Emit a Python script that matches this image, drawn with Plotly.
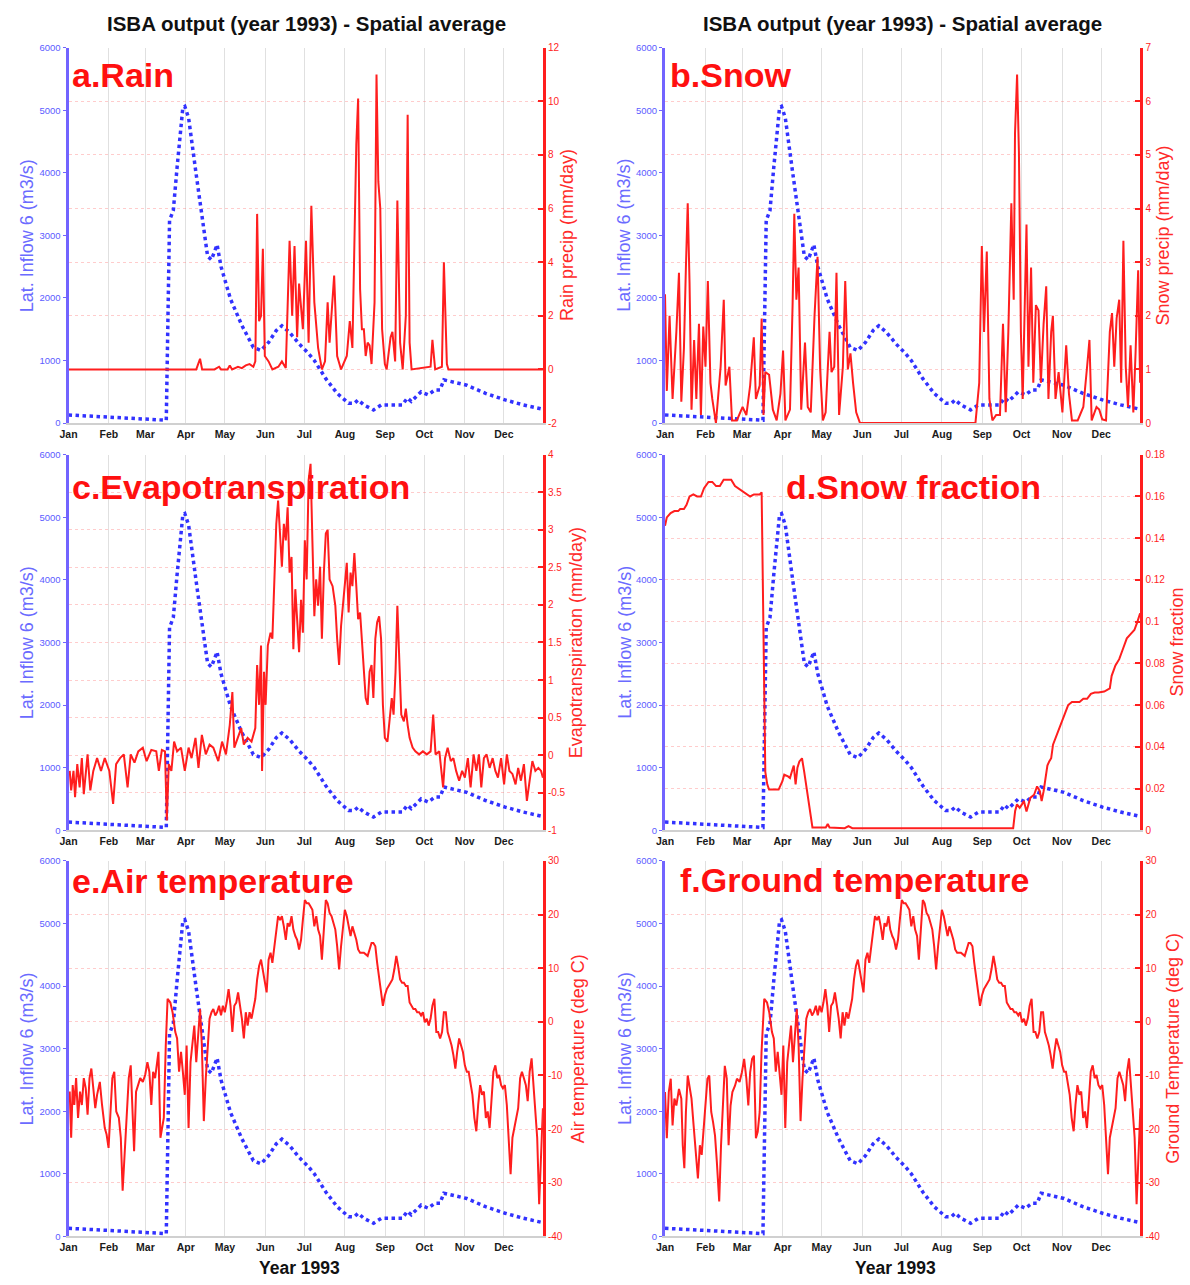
import plotly.graph_objects as go

# ---------------- data ----------------
months = ["Jan", "Feb", "Mar", "Apr", "May", "Jun", "Jul", "Aug", "Sep", "Oct", "Nov", "Dec"]
month_start = [1, 32, 60, 91, 121, 152, 182, 213, 244, 274, 305, 335]

# lateral inflow 6 (m3/s): (day of year, value) - same series in every panel
inflow = [(1, 130), (20, 110), (40, 90), (60, 70), (76, 45), (78.5, 3240), (81.4, 3400), (84.3, 4090),
          (88.7, 5040), (90.2, 5060), (93.1, 4880), (98.9, 3980), (103.3, 3300), (107.7, 2665),
          (110.6, 2610), (115, 2850), (118, 2500), (125.3, 1980), (134, 1560), (142.8, 1210),
          (148.7, 1160), (154.5, 1290), (160.4, 1480), (164.7, 1555), (170.6, 1450), (177.9, 1265),
          (185.2, 1110), (189.6, 1000), (198.4, 710), (207.1, 475), (215.9, 315), (220.3, 315),
          (223.2, 370), (227.6, 290), (235, 210), (241, 290), (248, 290), (257, 290), (261, 400),
          (264, 345), (271.5, 500), (277, 450), (282, 530), (286, 530), (289, 690), (295, 660),
          (306.6, 605), (321, 475), (336, 370), (350, 290), (365, 220)]

rain = [(1, 0), (99, 0), (101.9, 0.4), (103.5, 0), (113, 0), (116.5, 0.1), (118, 0), (123, 0), (124.7, 0.15),
        (126.5, 0), (131, 0.1), (134, 0.05), (137, 0.15), (139.9, 0.2), (142.8, 0.1), (144.3, 0.3),
        (145.7, 5.8), (147.2, 1.8), (148.7, 2.0), (150.1, 4.5), (151.6, 0.5), (154.5, 0.3), (157.4, 0),
        (162, 0.1), (164.7, 0.3), (167.7, 0.05), (170.6, 4.8), (172.6, 2.0), (174.4, 4.6), (176.4, 1.2),
        (177.9, 3.2), (180.8, 1.5), (183.2, 4.8), (185.2, 1.0), (187.3, 6.1), (189.6, 2.5), (192.5, 0.8),
        (195.4, 0), (197.8, 0.3), (199.8, 2.5), (201.3, 1.0), (202.8, 2.0), (204.8, 3.5), (207.1, 0.5),
        (210.1, 0), (214.5, 0.5), (216.8, 1.8), (218.8, 0.8), (220.3, 4.0), (221.8, 8.4), (223.2, 10.1),
        (224.7, 3.0), (226.1, 1.5), (227.6, 1.5), (229, 0.5), (230.5, 1.0), (232, 0.9), (233.5, 0.2),
        (235.8, 2.5), (237.3, 11.0), (238.7, 7.0), (240.2, 6.0), (241.6, 1.5), (243.7, 0.2), (245.1, 0),
        (248.1, 1.2), (249.5, 1.4), (251.6, 0.3), (253.3, 6.3), (255.4, 1.0), (257.4, 0), (259.8, 2.0),
        (261.2, 9.5), (262.7, 1.0), (264.2, 0), (271.5, 0.05), (278.8, 0.1), (280.2, 1.1), (282.3, 0),
        (287.5, 0.1), (289, 4.0), (291.3, 0.2), (292.5, 0), (365, 0)]

snow = [(1, 2.4), (2.4, 0.6), (4.5, 2.0), (6.8, 0.45), (9.7, 1.7), (11.7, 2.8), (13.5, 0.4), (15.5, 1.4),
        (17, 2.9), (18.4, 4.1), (19.8, 2.6), (21.3, 0.25), (23.3, 1.55), (25, 0.45), (27, 1.85),
        (28.5, 0.15), (30.3, 1.8), (32, 1.05), (33.8, 2.65), (35.8, 0.75), (37.2, 0.45), (40, 0),
        (43.6, 1.05), (46, 2.3), (47.4, 0.7), (50.3, 1.05), (52.3, 0.05), (56, 0.05), (60.4, 0.3),
        (63.3, 0.15), (66.2, 0.7), (69, 1.6), (70.6, 0.45), (73.5, 0.7), (75, 1.95), (76.4, 0.15),
        (77.8, 0.95), (80.7, 0.9), (83.6, 0.25), (86.5, 0.05), (89.4, 0.55), (91.4, 1.35), (93.2, 0.05),
        (96.7, 0.25), (98.7, 2.2), (100, 3.9), (101.6, 2.3), (103.3, 2.9), (105.3, 0.25), (108.2, 1.5),
        (110.3, 0.3), (112.6, 0.2), (115.5, 2.0), (117.8, 3.1), (119.8, 1.0), (121.9, 0.05), (124, 0.2),
        (127, 1.7), (128.5, 0.95), (130.6, 1.05), (132.3, 2.8), (134.3, 0.15), (137.2, 1.05), (139, 2.65),
        (141, 1.0), (143, 1.3), (145, 0.75), (147.4, 0.2), (150.3, 0), (238.7, 0), (241.6, 0.75),
        (243.6, 3.3), (245.3, 1.7), (247.4, 3.2), (249.4, 0.45), (251.7, 0.05), (254.6, 0.15),
        (257.5, 0.15), (259.8, 1.85), (261.9, 0.2), (263.9, 1.7), (266.2, 4.1), (268, 2.3), (269, 5.4),
        (270.6, 6.5), (272, 5.05), (273.5, 1.7), (274.9, 0.45), (277.8, 3.7), (279.3, 1.05), (281.3, 2.9),
        (283, 0.75), (285, 2.2), (287, 2.1), (288.8, 0.75), (290.9, 1.85), (292.9, 2.55), (294.6, 0.45),
        (296.7, 1.7), (298, 2.0), (300, 0.45), (302.4, 0.95), (305.3, 0.2), (308.2, 1.45), (310.3, 0.55),
        (312.6, 0.05), (317, 0.05), (321.3, 0.3), (324.2, 1.05), (326, 1.55), (327.7, 0.05), (331.4, 0.3),
        (333.5, 0.25), (335.8, 0.07), (338.7, 0.05), (341.6, 1.7), (343.3, 2.05), (345, 1.05),
        (346.8, 1.95), (348.8, 2.3), (350.3, 0.75), (352, 3.4), (353.8, 1.05), (355.5, 0.3), (357.5, 1.45),
        (359.6, 0.2), (361.3, 1.3), (363.3, 2.85), (364.8, 0.75)]

evap = [(1.9, -0.21), (3, -0.47), (4.8, -0.21), (6, -0.56), (7.7, -0.12), (9.5, -0.43), (11.2, -0.04),
        (12.7, -0.52), (15.6, 0.01), (17.7, -0.47), (20, -0.21), (22.9, -0.04), (25.9, -0.21), (28.8, -0.04),
        (32.3, -0.21), (35.2, -0.65), (37.5, -0.12), (40.5, -0.04), (43.4, 0.01), (46.3, -0.43), (48.7, 0.01),
        (51.6, -0.1), (54.5, 0.05), (58, 0.1), (60.9, -0.08), (64.5, 0.07), (68.3, 0.05), (70.3, -0.21),
        (72.6, 0.07), (75, 0.05), (76.4, -0.87), (77.9, -0.12), (79.9, -0.21), (82, 0.18), (84.3, 0.05),
        (87.3, 0.1), (90.2, -0.21), (93.1, 0.1), (95.4, -0.04), (98.4, 0.23), (100.7, -0.17), (103.3, 0.27),
        (106.3, 0.01), (109.2, 0.14), (112.1, 0.1), (115.9, -0.08), (118.8, 0.18), (121.8, 0.01),
        (124.7, 0.4), (126.7, 0.84), (128.2, 0.1), (131.1, 0.23), (133.5, 0.36), (135.5, 0.14),
        (138.4, 0.23), (141.4, 0.18), (144.3, 0.36), (145.7, 1.2), (147.2, 0.67), (148.7, 1.46),
        (149.5, -0.21), (151, 1.11), (152.2, 0.67), (153.9, 1.46), (156, 1.63), (157.4, 1.55), (158.9, 2.43),
        (160.4, 3.08), (161.8, 3.39), (163.3, 2.95), (164.7, 2.51), (166.2, 3.08), (167.7, 2.86),
        (169.1, 3.3), (170.6, 2.43), (172.1, 2.64), (173.5, 1.41), (175, 2.21), (176.4, 1.77), (177.9, 1.37),
        (179.4, 2.07), (180.8, 1.63), (182.3, 2.86), (183.7, 2.34), (185.2, 3.66), (186.7, 3.88),
        (188.1, 2.86), (189.6, 1.85), (191, 2.34), (192.5, 1.99), (194, 2.51), (195.4, 1.55), (196.9, 2.43),
        (198.4, 2.95), (199.8, 3.0), (201.3, 2.34), (203.6, 2.25), (205.7, 1.99), (207.1, 1.55),
        (208.6, 1.2), (210.1, 1.72), (211.5, 1.99), (213, 2.34), (214.5, 2.56), (215.9, 1.9), (217.4, 2.43),
        (218.8, 2.25), (220.3, 2.69), (221.8, 2.25), (223.2, 1.81), (224.7, 1.9), (226.1, 1.55),
        (227.6, 1.11), (229, 0.76), (230.5, 0.67), (232, 1.11), (233.5, 1.2), (234.9, 0.76), (236.4, 1.55),
        (237.8, 1.77), (239.3, 1.85), (240.8, 1.55), (242.2, 0.67), (243.7, 0.23), (245.7, 0.18),
        (247.5, 0.45), (249, 0.76), (250.4, 0.54), (251.9, 1.11), (253.3, 1.99), (254.8, 1.11),
        (256.3, 0.54), (258.3, 0.45), (259.8, 0.62), (261.2, 0.4), (262.7, 0.23), (265, 0.1), (267.1, 0.05),
        (270, 0.01), (272.9, 0.05), (275.9, 0.01), (278.8, 0.05), (280.8, 0.54), (282.6, 0.01),
        (285.5, 0.05), (288.4, -0.43), (289.9, -0.04), (291.9, 0.1), (294.3, -0.08), (296.3, -0.04),
        (298.4, -0.21), (300.7, -0.34), (303, -0.21), (305.1, -0.3), (307.4, -0.04), (309.5, -0.43),
        (311.8, 0.01), (313.9, -0.21), (315.9, 0.01), (317.7, -0.43), (319.7, -0.04), (321.8, 0.01),
        (324.1, -0.17), (326.4, -0.04), (328.5, -0.21), (330.5, -0.3), (332.9, -0.04), (335.2, -0.39),
        (337.3, 0.01), (339.3, -0.21), (341.6, -0.25), (344, -0.39), (346, -0.17), (348.1, -0.34),
        (350.4, -0.12), (352.7, -0.61), (354.8, -0.34), (356.9, -0.08), (359.2, -0.21), (361.5, -0.17),
        (363.6, -0.21), (365, -0.3)]

snow_frac = [(1, 0.146), (2.4, 0.150), (5.3, 0.152), (8.2, 0.153), (11.1, 0.153), (12.6, 0.154),
             (15.5, 0.154), (17.5, 0.156), (19.8, 0.160), (22.7, 0.161), (25.6, 0.160), (28.5, 0.160),
             (30.9, 0.164), (34.3, 0.167), (37.2, 0.167), (40.1, 0.165), (43, 0.165), (45.9, 0.168),
             (48.8, 0.168), (51.7, 0.168), (54.6, 0.165), (59, 0.163), (63.3, 0.161), (66.2, 0.160),
             (69.1, 0.161), (73.5, 0.161), (75, 0.162), (75.8, 0.123), (77, 0.06), (77.8, 0.028),
             (79.3, 0.022), (80.7, 0.0195), (85.1, 0.0195), (88, 0.0195), (90.9, 0.0235), (92.3, 0.0266),
             (95.2, 0.0258), (96.7, 0.025), (98.1, 0.028), (99.6, 0.031), (101, 0.022), (102.4, 0.03),
             (103.9, 0.033), (105.9, 0.0345), (107.6, 0.028), (109.6, 0.0187), (111.9, 0.0092),
             (113.9, 0.0013), (124.1, 0.0013), (125.6, 0.003), (127, 0.0013), (138.6, 0.001), (141.5, 0.002),
             (144.4, 0.001), (267.6, 0.001), (269.1, 0.0092), (270.5, 0.0124), (272.6, 0.0108),
             (274.3, 0.0124), (275.8, 0.014), (277.8, 0.009), (280.7, 0.0155), (283.6, 0.017), (285.9, 0.021),
             (288, 0.0187), (289.4, 0.014), (290.9, 0.0187), (293.8, 0.031), (295.2, 0.033), (296.7, 0.0345),
             (298.1, 0.041), (301, 0.0456), (303.9, 0.05), (306.8, 0.055), (309.7, 0.06), (312.6, 0.0615),
             (315.5, 0.0615), (318.4, 0.0615), (321.3, 0.063), (324.2, 0.063), (327.1, 0.0654), (330, 0.066),
             (332.9, 0.066), (337.3, 0.0665), (341.6, 0.068), (343, 0.074), (345.9, 0.079), (348.8, 0.082),
             (351.7, 0.087), (354.6, 0.092), (357.5, 0.094), (360.4, 0.096), (362.5, 0.0995), (364.8, 0.104)]

air_temp = [(1.9, -13), (3.0, -21.6), (4.2, -11.8), (5.4, -15.5), (6.8, -10.5), (8.3, -17.9), (9.8, -13),
            (11.2, -15.5), (12.7, -10.5), (14.2, -12.4), (15.6, -17.3), (17.1, -10.5), (18.5, -8.7),
            (20.0, -11.8), (21.5, -16.1), (22.9, -13.6), (25.0, -11.2), (26.7, -15.5), (28.8, -19.8),
            (30.2, -21), (31.7, -23.5), (33.2, -16.7), (34.6, -10.5), (36.1, -9.3), (37.6, -16.7),
            (39.6, -17.9), (41.1, -21.6), (42.5, -31.5), (44.0, -24.1), (45.4, -16.7), (47.2, -10.5),
            (48.7, -8.1), (50.1, -17.9), (51.3, -24.1), (52.8, -13), (54.5, -11.8), (56.0, -10.5),
            (58.0, -11.2), (59.8, -9.9), (61.5, -7.5), (63.0, -9.3), (64.5, -15.5), (65.9, -9.3),
            (67.4, -10.5), (68.8, -7.5), (70.0, -5.6), (71.5, -21.6), (72.9, -19.2), (74.1, -17.9),
            (75.6, -4.4), (77.0, 4.3), (79.1, 3.6), (80.8, 1.8), (82.9, -1.9), (84.3, -3.1), (85.8, -9.3),
            (87.3, -5.6), (88.7, -9.3), (90.2, -13.6), (91.6, -4.4), (93.1, -19.8), (94.6, -7.5), (96.0, -4.4),
            (97.5, -0.7), (99.0, -7.5), (100.4, -1.9), (101.9, 2.4), (103.3, -4.4), (104.8, -18.5),
            (106.3, -10.5), (107.7, -4.4), (109.2, 0.6), (110.7, 1.8), (112.1, 2.4), (113.6, 1.2), (115.0, 1.8),
            (116.5, 3), (118.0, 1.2), (119.4, 3), (120.9, 1.8), (122.3, 3.6), (123.8, 6.1), (125.3, 3),
            (126.7, -1.9), (128.2, 3), (129.7, 3.6), (131.1, 5.5), (132.6, 3), (134.0, 0.6), (135.5, -3.1),
            (137.0, 1.8), (138.4, -0.7), (139.9, 1.8), (141.4, 0.6), (142.8, 2.4), (144.3, 4.3), (145.7, 7.9),
            (147.2, 10.4), (148.7, 11.6), (150.1, 9.8), (151.6, 7.9), (153.0, 5.5), (154.5, 11.6),
            (156.0, 12.9), (157.4, 11), (158.9, 14.1), (160.4, 17.2), (161.8, 19.7), (163.3, 19), (164.7, 19.7),
            (166.2, 17.8), (167.7, 15.3), (169.1, 18.4), (170.6, 17.8), (172.1, 19.7), (173.5, 17.2),
            (175.0, 16), (176.4, 15.3), (177.9, 13.5), (179.4, 15.3), (180.8, 19), (182.3, 22.7), (183.8, 22.1),
            (185.2, 22.1), (186.7, 21.5), (188.1, 20.9), (189.6, 17.8), (191.1, 19.7), (192.5, 17.2),
            (194.0, 16), (195.4, 11.6), (196.9, 17.2), (198.4, 22.7), (199.8, 22.1), (201.3, 20.3),
            (202.8, 19.7), (204.2, 18.4), (205.7, 17.2), (207.1, 14.1), (208.6, 9.8), (210.1, 14.1),
            (211.5, 17.2), (213.0, 20.9), (214.5, 19.7), (215.9, 17.8), (217.4, 16), (218.8, 17.8),
            (220.3, 16.6), (221.8, 15.3), (223.2, 13.5), (224.7, 12.9), (227.6, 12.9), (230.5, 12.3),
            (232.0, 13.5), (233.5, 14.7), (234.9, 14.7), (236.4, 14.1), (237.8, 11), (239.3, 7.9), (240.8, 5.5),
            (242.2, 3), (243.7, 4.9), (245.2, 6.1), (246.6, 6.7), (248.1, 7.3), (249.5, 7.9), (251.0, 9.8),
            (252.5, 12.3), (253.9, 10.4), (255.4, 7.9), (256.9, 7.3), (258.3, 7.3), (259.8, 6.7), (261.2, 6.7),
            (262.7, 3.6), (264.2, 3), (265.6, 2.4), (267.1, 2.4), (268.5, 1.8), (270.0, 1.8), (271.5, 1.2),
            (272.9, 1.8), (274.4, -0.1), (275.9, 0.6), (277.3, -0.7), (278.8, 0.6), (280.2, 3), (281.7, 4.3),
            (283.2, -1.9), (284.6, -1.9), (286.1, -3.1), (287.6, -1.9), (289.0, 1.8), (290.5, 1.8),
            (291.9, -1.9), (293.4, -3.1), (294.9, -4.4), (296.3, -6.2), (297.8, -8.7), (299.2, -5.6),
            (300.7, -3.1), (302.2, -4.4), (303.6, -5.6), (305.1, -8.1), (306.6, -9.3), (308.0, -9.3),
            (309.5, -11.8), (310.9, -13.6), (312.4, -17.9), (313.9, -20.4), (315.3, -15.5), (316.8, -11.8),
            (318.3, -13.6), (319.7, -13), (321.2, -17.9), (322.6, -16.7), (324.1, -19.8), (325.6, -14.2),
            (327.0, -9.3), (328.5, -8.1), (330.0, -10.5), (331.4, -9.9), (332.9, -11.8), (334.3, -12.4),
            (335.8, -11.8), (337.3, -15.5), (338.7, -21), (340.2, -28.4), (341.6, -21.6), (343.1, -19.8),
            (344.6, -17.9), (346.0, -16.1), (347.5, -10.5), (348.9, -9.3), (350.4, -10.5), (351.9, -11.8),
            (353.3, -14.8), (354.8, -9.3), (356.3, -6.8), (357.7, -11.8), (359.2, -16.7), (360.6, -21.6),
            (362.1, -34), (363.6, -26.6), (364.3, -20.4), (365.0, -16.1)]

# ground temperature: Jan-mid Mar differs from air temperature, afterwards it follows it closely
ground_early = [(1, -13.1), (2.4, -21.7), (3.9, -13.1), (5.4, -10.6), (6.8, -19.3), (8.2, -14.3), (9.7, -15.6),
                (11.7, -12.5), (13.5, -14.3), (14.6, -23), (15.8, -27.3), (17, -16.8), (18.4, -10), (19.8, -12.5),
                (21.3, -14.3), (22.7, -18.7), (24.2, -23), (26.2, -29.2), (27.7, -23), (29.1, -24.8),
                (30.6, -19.9), (32, -15.6), (33.5, -10.6), (34.9, -10), (36.4, -16.8), (37.8, -18.7),
                (39.3, -21.2), (40.7, -26.1), (42.5, -33.5), (43.9, -23), (45.4, -15.6), (46.8, -8.2),
                (48.3, -10.6), (49.7, -23), (51.2, -15.6), (52.6, -13.1), (54.6, -11.9), (56.1, -10.6),
                (58.1, -11.2), (59.9, -9.4), (61.6, -6.9), (63.3, -10.6), (64.8, -15.6), (66.2, -9.4),
                (67.7, -6.9), (69.1, -6.3), (70.6, -21.7), (72, -20.5), (73.5, -16.8), (74.9, -5.7)]
ground_temp = ground_early + [p for p in air_temp if p[0] >= 77]

# ---------------- styling ----------------
W, H = 1190, 1285
FONT = "Liberation Sans, Arial, sans-serif"
BLUE = "#3232ff"
AXIS_BLUE = "#7264ff"
TICK_BLUE = "#5c5cff"
RED = "#ff1e1e"

cols = [(60, 538), (661, 1140)]
rows = [(42, 421), (453, 832), (863, 1242)]


def fx(px):
    return px / W


def fy(py):
    return 1 - py / H


def rng_ticks(lo, hi, step):
    vals = []
    v = lo
    while v <= hi + 1e-9:
        vals.append(round(v, 4))
        v += step
    return vals


panels = [
    dict(col=0, row=0, data=rain, rng=[-2, 12], tv=rng_ticks(-2, 12, 2), tt=None,
         title="Rain precip (mm/day)", rtx=563, label="a.Rain", lx=61, ly=70),
    dict(col=1, row=0, data=snow, rng=[0, 7], tv=rng_ticks(0, 7, 1), tt=None,
         title="Snow precip (mm/day)", rtx=1163, label="b.Snow", lx=664, ly=70),
    dict(col=0, row=1, data=evap, rng=[-1, 4], tv=rng_ticks(-1, 4, 0.5),
         tt=["-1", "-0.5", "0", "0.5", "1", "1.5", "2", "2.5", "3", "3.5", "4"],
         title="Evapotranspiration (mm/day)", rtx=571, label="c.Evapotranspiration", lx=61, ly=486),
    dict(col=1, row=1, data=snow_frac, rng=[0, 0.18], tv=rng_ticks(0, 0.18, 0.02),
         tt=["0", "0.02", "0.04", "0.06", "0.08", "0.1", "0.12", "0.14", "0.16", "0.18"],
         title="Snow fraction", rtx=1176, label="d.Snow fraction", lx=781, ly=486),
    dict(col=0, row=2, data=air_temp, rng=[-40, 30], tv=rng_ticks(-40, 30, 10), tt=None,
         title="Air temperature (deg C)", rtx=573, label="e.Air temperature", lx=61, ly=883),
    dict(col=1, row=2, data=ground_temp, rng=[-40, 30], tv=rng_ticks(-40, 30, 10), tt=None,
         title="Ground Temperature (deg C)", rtx=1173, label="f.Ground temperature", lx=674, ly=882),
]

fig = go.Figure()
layout = {}
annotations = []

in_day = [p[0] for p in inflow]
in_val = [p[1] for p in inflow]

for i, p in enumerate(panels):
    n = i + 1
    xid = "x" if n == 1 else f"x{n}"
    yl_n = 2 * n - 1
    yr_n = 2 * n
    ylid = "y" if yl_n == 1 else f"y{yl_n}"
    yrid = f"y{yr_n}"
    c0, c1 = cols[p["col"]]
    r0, r1 = rows[p["row"]]

    fig.add_trace(go.Scatter(x=in_day, y=in_val, xaxis=xid, yaxis=ylid, mode="lines",
                             line=dict(color=BLUE, width=3.5, dash="dot"), showlegend=False,
                             hoverinfo="skip"))
    fig.add_trace(go.Scatter(x=[d[0] for d in p["data"]], y=[d[1] for d in p["data"]],
                             xaxis=xid, yaxis=yrid, mode="lines",
                             line=dict(color=RED, width=2), showlegend=False, hoverinfo="skip"))

    layout["xaxis" if n == 1 else f"xaxis{n}"] = dict(
        domain=[fx(c0), fx(c1)], anchor=ylid, range=[1, 365],
        tickmode="array", tickvals=month_start, ticktext=months,
        showgrid=True, gridcolor="#e0e0e0", gridwidth=1,
        showline=True, linecolor="#d0d0d0", linewidth=2, ticks="", zeroline=False,
        tickfont=dict(family=FONT, size=10.5, color="#1a1a1a", weight="bold"),
    )
    layout["yaxis" if yl_n == 1 else f"yaxis{yl_n}"] = dict(
        domain=[fy(r1), fy(r0)], anchor=xid, range=[0, 6000],
        tickmode="array", tickvals=list(range(0, 6001, 1000)),
        ticktext=[str(v) for v in range(0, 6001, 1000)],
        showgrid=False, zeroline=False, showline=True, linecolor=AXIS_BLUE, linewidth=3,
        ticks="outside", ticklen=3, tickcolor=AXIS_BLUE,
        tickfont=dict(family=FONT, size=9.5, color=TICK_BLUE),
    )
    tt = p["tt"] if p["tt"] is not None else [str(int(v)) for v in p["tv"]]
    layout[f"yaxis{yr_n}"] = dict(
        overlaying=ylid, side="right", anchor=xid, range=p["rng"],
        tickmode="array", tickvals=p["tv"], ticktext=tt,
        showgrid=True, gridcolor="rgba(255,110,110,0.35)", griddash="dot", gridwidth=1,
        zeroline=False, showline=True, linecolor=RED, linewidth=3,
        ticks="inside", ticklen=5, tickwidth=2, tickcolor=RED,
        tickfont=dict(family=FONT, size=10, color=RED),
    )

    ymid = (r0 + r1) / 2
    lt_x = 18 if p["col"] == 0 else 620
    annotations.append(dict(xref="paper", yref="paper", x=fx(lt_x), y=fy(ymid), text="Lat. Inflow 6 (m3/s)",
                            textangle=-90, showarrow=False, xanchor="center", yanchor="middle",
                            font=dict(family=FONT, size=18, color="#6b6bff")))
    annotations.append(dict(xref="paper", yref="paper", x=fx(p["rtx"]), y=fy(ymid), text=p["title"],
                            textangle=-90, showarrow=False, xanchor="center", yanchor="middle",
                            font=dict(family=FONT, size=18, color="#ff2a2a")))
    annotations.append(dict(xref="paper", yref="paper", x=fx(p["lx"]), y=fy(p["ly"]), text=p["label"],
                            showarrow=False, xanchor="left", yanchor="middle",
                            font=dict(family=FONT, size=34, color="#ff1010", weight="bold")))

for cx in (300, 900):
    annotations.append(dict(xref="paper", yref="paper", x=fx(cx), y=fy(18),
                            text="ISBA output (year 1993) - Spatial average", showarrow=False,
                            xanchor="center", yanchor="middle",
                            font=dict(family=FONT, size=20.5, color="#111111", weight="bold")))
for cx in (293, 893):
    annotations.append(dict(xref="paper", yref="paper", x=fx(cx), y=fy(1274), text="Year 1993",
                            showarrow=False, xanchor="center", yanchor="middle",
                            font=dict(family=FONT, size=17.5, color="#111111", weight="bold")))

layout.update(dict(width=W, height=H, margin=dict(l=0, r=0, t=0, b=0),
                   paper_bgcolor="white", plot_bgcolor="white", showlegend=False,
                   annotations=annotations, font=dict(family=FONT)))
fig.update_layout(**layout)
fig.write_html("out.html", config={"displayModeBar": False},
               post_script="document.body.style.margin='0px';document.body.style.overflow='hidden';")
